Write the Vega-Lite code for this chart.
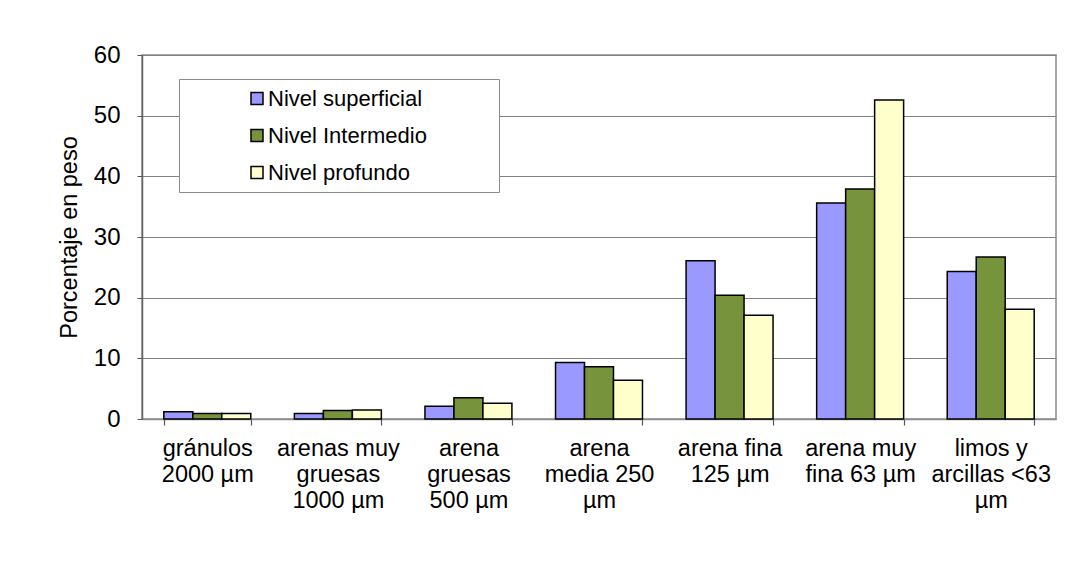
{
  "$schema": "https://vega.github.io/schema/vega-lite/v6.json",
  "autosize": {"type": "none"},
  "padding": {"left": 142, "top": 55, "right": 30, "bottom": 144},
  "width": 914,
  "height": 364,
  "background": "white",
  "config": {
    "font": "Liberation Sans",
    "view": {"stroke": "#8c8c8c", "strokeWidth": 1.5},
    "axis": {"labelColor": "black", "titleColor": "black", "labelFont": "Liberation Sans", "titleFont": "Liberation Sans"}
  },
  "data": {
    "values": [
      {"clase": "gránulos 2000 µm", "nivel": "Nivel superficial", "porcentaje": 1.2},
      {"clase": "gránulos 2000 µm", "nivel": "Nivel Intermedio", "porcentaje": 0.9},
      {"clase": "gránulos 2000 µm", "nivel": "Nivel profundo", "porcentaje": 0.9},
      {"clase": "arenas muy gruesas 1000 µm", "nivel": "Nivel superficial", "porcentaje": 0.9},
      {"clase": "arenas muy gruesas 1000 µm", "nivel": "Nivel Intermedio", "porcentaje": 1.4},
      {"clase": "arenas muy gruesas 1000 µm", "nivel": "Nivel profundo", "porcentaje": 1.5},
      {"clase": "arena gruesas 500 µm", "nivel": "Nivel superficial", "porcentaje": 2.1},
      {"clase": "arena gruesas 500 µm", "nivel": "Nivel Intermedio", "porcentaje": 3.5},
      {"clase": "arena gruesas 500 µm", "nivel": "Nivel profundo", "porcentaje": 2.6},
      {"clase": "arena media 250 µm", "nivel": "Nivel superficial", "porcentaje": 9.3},
      {"clase": "arena media 250 µm", "nivel": "Nivel Intermedio", "porcentaje": 8.6},
      {"clase": "arena media 250 µm", "nivel": "Nivel profundo", "porcentaje": 6.4},
      {"clase": "arena fina 125 µm", "nivel": "Nivel superficial", "porcentaje": 26.1},
      {"clase": "arena fina 125 µm", "nivel": "Nivel Intermedio", "porcentaje": 20.4},
      {"clase": "arena fina 125 µm", "nivel": "Nivel profundo", "porcentaje": 17.1},
      {"clase": "arena muy fina 63 µm", "nivel": "Nivel superficial", "porcentaje": 35.6},
      {"clase": "arena muy fina 63 µm", "nivel": "Nivel Intermedio", "porcentaje": 37.9},
      {"clase": "arena muy fina 63 µm", "nivel": "Nivel profundo", "porcentaje": 52.6},
      {"clase": "limos y arcillas <63 µm", "nivel": "Nivel superficial", "porcentaje": 24.3},
      {"clase": "limos y arcillas <63 µm", "nivel": "Nivel Intermedio", "porcentaje": 26.7},
      {"clase": "limos y arcillas <63 µm", "nivel": "Nivel profundo", "porcentaje": 18.1}
    ]
  },
  "mark": {"type": "bar", "stroke": "black", "strokeWidth": 1.5},
  "encoding": {
    "x": {
      "field": "clase",
      "type": "nominal",
      "sort": null,
      "scale": {"paddingInner": 0.334, "paddingOuter": 0.167},
      "axis": {
        "title": null,
        "labelAngle": 0,
        "labelFontSize": 23.5,
        "labelLineHeight": 26,
        "labelPadding": 11,
        "labelLimit": 0,
        "tickSize": 6,
        "tickWidth": 1.2,
        "tickBand": "extent",
        "tickColor": "#555555",
        "domainColor": "#8c8c8c",
        "domainWidth": 1.5,
        "labelExpr": "datum.value == 'gránulos 2000 µm' ? ['gránulos', '2000 µm'] : datum.value == 'arenas muy gruesas 1000 µm' ? ['arenas muy', 'gruesas', '1000 µm'] : datum.value == 'arena gruesas 500 µm' ? ['arena', 'gruesas', '500 µm'] : datum.value == 'arena media 250 µm' ? ['arena', 'media 250', 'µm'] : datum.value == 'arena fina 125 µm' ? ['arena fina', '125 µm'] : datum.value == 'arena muy fina 63 µm' ? ['arena muy', 'fina 63 µm'] : datum.value == 'limos y arcillas <63 µm' ? ['limos y', 'arcillas <63', 'µm'] : ''"
      }
    },
    "xOffset": {
      "field": "nivel",
      "type": "nominal",
      "sort": ["Nivel superficial", "Nivel Intermedio", "Nivel profundo"],
      "scale": {"paddingInner": 0, "paddingOuter": 0}
    },
    "y": {
      "field": "porcentaje",
      "type": "quantitative",
      "scale": {"domain": [0, 60], "nice": false},
      "axis": {
        "title": "Porcentaje en peso",
        "titleFontSize": 23.5,
        "titleFontWeight": "normal",
        "titlePadding": 12,
        "values": [0, 10, 20, 30, 40, 50, 60],
        "labelFontSize": 24,
        "labelPadding": 17,
        "tickSize": 5,
        "tickColor": "#555555",
        "domainColor": "#666666",
        "domainWidth": 1.5,
        "grid": true,
        "gridColor": "#808080",
        "gridWidth": 1.2
      }
    },
    "color": {
      "field": "nivel",
      "type": "nominal",
      "sort": ["Nivel superficial", "Nivel Intermedio", "Nivel profundo"],
      "scale": {
        "domain": ["Nivel superficial", "Nivel Intermedio", "Nivel profundo"],
        "range": ["#9999ff", "#77933c", "#ffffcc"]
      },
      "legend": {
        "orient": "none",
        "legendX": 37,
        "legendY": 24,
        "title": "\u00a0",
        "titleOrient": "right",
        "titleAngle": 0,
        "titleFontSize": 10,
        "titlePadding": 64,
        "fillColor": "white",
        "strokeColor": "#8c8c8c",
        "padding": 8.5,
        "symbolType": "square",
        "symbolSize": 144,
        "symbolStrokeColor": "black",
        "symbolStrokeWidth": 1.5,
        "symbolOpacity": 1,
        "symbolOffset": 58.5,
        "labelOffset": 0,
        "labelFontSize": 22,
        "labelColor": "black",
        "labelFont": "Liberation Sans",
        "rowPadding": 15
      }
    }
  }
}
